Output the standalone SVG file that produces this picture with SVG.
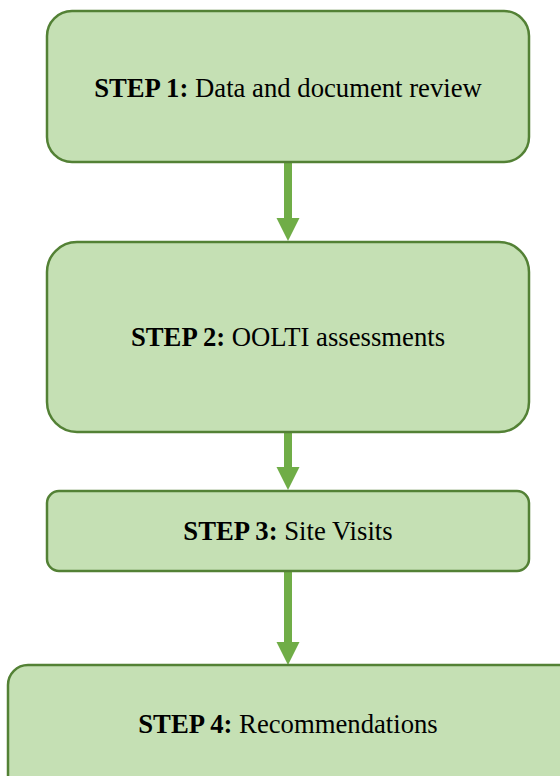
<svg xmlns="http://www.w3.org/2000/svg" width="560" height="776" viewBox="0 0 560 776">
<style>
.box{fill:#C5E0B4;stroke:#538135;stroke-width:2.5}
.t{font-family:"Liberation Serif","Times New Roman",serif;font-size:26.7px;fill:#000;text-anchor:middle}
.b{font-weight:bold}
.shaft{stroke:#70AD47;stroke-width:8;fill:none}
.head{fill:#70AD47}
</style>
<rect width="560" height="776" fill="#fff"/>
<g id="connectors">
<line class="shaft" x1="288" y1="163" x2="288" y2="219"/>
<polygon class="head" points="276.5,218 299.5,218 288,241"/>
<line class="shaft" x1="288" y1="433" x2="288" y2="468"/>
<polygon class="head" points="276.5,467 299.5,467 288,490"/>
<line class="shaft" x1="288" y1="572" x2="288" y2="643"/>
<polygon class="head" points="276.5,642 299.5,642 288,665"/>
</g>
<g id="step1">
<rect class="box" x="47" y="11" width="482" height="151" rx="25"/>
<text class="t" x="288" y="97"><tspan class="b">STEP 1:</tspan> Data and document review</text>
</g>
<g id="step2">
<rect class="box" x="47" y="242" width="482" height="190" rx="30"/>
<text class="t" x="288" y="346"><tspan class="b">STEP 2:</tspan> OOLTI assessments</text>
</g>
<g id="step3">
<rect class="box" x="47" y="491" width="482" height="80" rx="12"/>
<text class="t" x="288" y="540"><tspan class="b">STEP 3:</tspan> Site Visits</text>
</g>
<g id="step4">
<rect class="box" x="8" y="665" width="572" height="130" rx="20"/>
<text class="t" x="288" y="733"><tspan class="b">STEP 4:</tspan> Recommendations</text>
</g>
</svg>
